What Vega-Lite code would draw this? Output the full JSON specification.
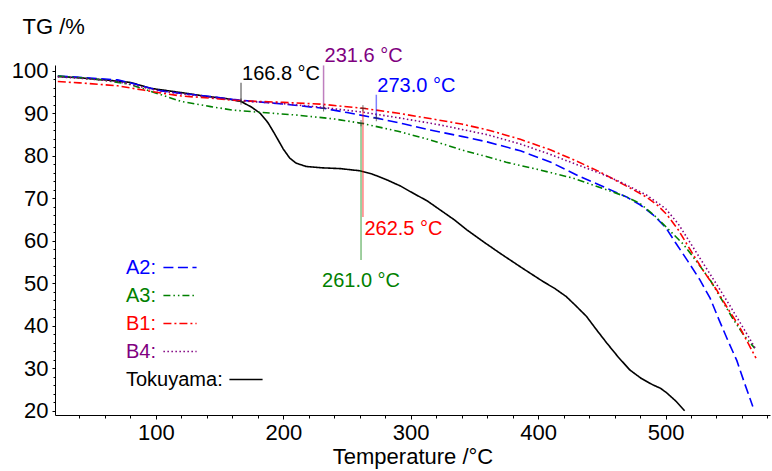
{
  "$schema": "https://vega.github.io/schema/vega-lite/v6.json",
  "width": 715,
  "height": 350,
  "autosize": "none",
  "padding": {"left": 55, "top": 65, "right": 2, "bottom": 56},
  "background": "white",
  "config": {
    "view": {"stroke": null},
    "font": "Liberation Sans",
    "axis": {"grid": false, "domainColor": "#000000", "tickColor": "#000000", "labelColor": "#000000", "titleColor": "#000000", "labelFont": "Liberation Sans", "titleFont": "Liberation Sans", "titleFontWeight": "normal"}
  },
  "datasets": {
    "curves": [
      {"series": "Tokuyama", "T": 23, "TG": 98.7}, {"series": "Tokuyama", "T": 40, "TG": 98.4}, {"series": "Tokuyama", "T": 60, "TG": 97.9}, {"series": "Tokuyama", "T": 80, "TG": 97.3}, {"series": "Tokuyama", "T": 96, "TG": 95.9}, {"series": "Tokuyama", "T": 120, "TG": 94.9}, {"series": "Tokuyama", "T": 140, "TG": 94.0}, {"series": "Tokuyama", "T": 155, "TG": 93.5}, {"series": "Tokuyama", "T": 166.8, "TG": 92.8}, {"series": "Tokuyama", "T": 175, "TG": 91.5}, {"series": "Tokuyama", "T": 182, "TG": 90.0}, {"series": "Tokuyama", "T": 188, "TG": 87.8}, {"series": "Tokuyama", "T": 193, "TG": 85.3}, {"series": "Tokuyama", "T": 200, "TG": 81.6}, {"series": "Tokuyama", "T": 205, "TG": 79.5}, {"series": "Tokuyama", "T": 210, "TG": 78.3}, {"series": "Tokuyama", "T": 218, "TG": 77.5}, {"series": "Tokuyama", "T": 230, "TG": 77.2}, {"series": "Tokuyama", "T": 245, "TG": 77.0}, {"series": "Tokuyama", "T": 260, "TG": 76.5}, {"series": "Tokuyama", "T": 270, "TG": 75.7}, {"series": "Tokuyama", "T": 281, "TG": 74.4}, {"series": "Tokuyama", "T": 292, "TG": 72.9}, {"series": "Tokuyama", "T": 302, "TG": 71.2}, {"series": "Tokuyama", "T": 313, "TG": 69.4}, {"series": "Tokuyama", "T": 323, "TG": 67.3}, {"series": "Tokuyama", "T": 334, "TG": 65.0}, {"series": "Tokuyama", "T": 344, "TG": 62.6}, {"series": "Tokuyama", "T": 357, "TG": 59.8}, {"series": "Tokuyama", "T": 370, "TG": 57.1}, {"series": "Tokuyama", "T": 387, "TG": 53.7}, {"series": "Tokuyama", "T": 404, "TG": 50.4}, {"series": "Tokuyama", "T": 413, "TG": 48.8}, {"series": "Tokuyama", "T": 422, "TG": 46.9}, {"series": "Tokuyama", "T": 430, "TG": 44.6}, {"series": "Tokuyama", "T": 438, "TG": 42.2}, {"series": "Tokuyama", "T": 446, "TG": 39.0}, {"series": "Tokuyama", "T": 454, "TG": 35.9}, {"series": "Tokuyama", "T": 463, "TG": 32.6}, {"series": "Tokuyama", "T": 472, "TG": 29.6}, {"series": "Tokuyama", "T": 481, "TG": 27.6}, {"series": "Tokuyama", "T": 490, "TG": 26.1}, {"series": "Tokuyama", "T": 496, "TG": 25.3}, {"series": "Tokuyama", "T": 501, "TG": 24.2}, {"series": "Tokuyama", "T": 508, "TG": 22.3}, {"series": "Tokuyama", "T": 515, "TG": 20.0},

      {"series": "A2", "T": 23, "TG": 98.8}, {"series": "A2", "T": 40, "TG": 98.5}, {"series": "A2", "T": 60, "TG": 98.1}, {"series": "A2", "T": 70, "TG": 97.9}, {"series": "A2", "T": 85, "TG": 96.8}, {"series": "A2", "T": 104, "TG": 95.3}, {"series": "A2", "T": 120, "TG": 94.7}, {"series": "A2", "T": 143, "TG": 94.0}, {"series": "A2", "T": 160, "TG": 93.3}, {"series": "A2", "T": 174, "TG": 92.9}, {"series": "A2", "T": 200, "TG": 92.2}, {"series": "A2", "T": 231.6, "TG": 91.2}, {"series": "A2", "T": 250, "TG": 90.2}, {"series": "A2", "T": 273, "TG": 88.9}, {"series": "A2", "T": 295, "TG": 87.5}, {"series": "A2", "T": 315, "TG": 86.1}, {"series": "A2", "T": 340, "TG": 84.6}, {"series": "A2", "T": 360, "TG": 83.3}, {"series": "A2", "T": 386, "TG": 81.2}, {"series": "A2", "T": 410, "TG": 78.5}, {"series": "A2", "T": 433, "TG": 75.1}, {"series": "A2", "T": 450, "TG": 72.9}, {"series": "A2", "T": 469, "TG": 70.4}, {"series": "A2", "T": 480, "TG": 68.5}, {"series": "A2", "T": 490, "TG": 66.2}, {"series": "A2", "T": 500, "TG": 63.2}, {"series": "A2", "T": 508, "TG": 59.5}, {"series": "A2", "T": 518, "TG": 55.0}, {"series": "A2", "T": 527, "TG": 50.8}, {"series": "A2", "T": 535, "TG": 46.5}, {"series": "A2", "T": 542, "TG": 41.4}, {"series": "A2", "T": 549, "TG": 36.5}, {"series": "A2", "T": 556, "TG": 31.8}, {"series": "A2", "T": 562, "TG": 26.5}, {"series": "A2", "T": 568.5, "TG": 21.0},

      {"series": "A3", "T": 23, "TG": 98.8}, {"series": "A3", "T": 40, "TG": 98.4}, {"series": "A3", "T": 60, "TG": 97.8}, {"series": "A3", "T": 80, "TG": 96.8}, {"series": "A3", "T": 104, "TG": 94.4}, {"series": "A3", "T": 120, "TG": 92.8}, {"series": "A3", "T": 143, "TG": 91.6}, {"series": "A3", "T": 160, "TG": 90.8}, {"series": "A3", "T": 180, "TG": 90.3}, {"series": "A3", "T": 211, "TG": 89.6}, {"series": "A3", "T": 240, "TG": 88.7}, {"series": "A3", "T": 261, "TG": 87.7}, {"series": "A3", "T": 290, "TG": 85.8}, {"series": "A3", "T": 315, "TG": 83.8}, {"series": "A3", "T": 340, "TG": 81.4}, {"series": "A3", "T": 360, "TG": 79.8}, {"series": "A3", "T": 375, "TG": 78.5}, {"series": "A3", "T": 400, "TG": 76.8}, {"series": "A3", "T": 427, "TG": 74.8}, {"series": "A3", "T": 448, "TG": 72.6}, {"series": "A3", "T": 469, "TG": 70.4}, {"series": "A3", "T": 480, "TG": 68.8}, {"series": "A3", "T": 493, "TG": 65.5}, {"series": "A3", "T": 503, "TG": 62.5}, {"series": "A3", "T": 514, "TG": 59.2}, {"series": "A3", "T": 524, "TG": 55.3}, {"series": "A3", "T": 535, "TG": 50.8}, {"series": "A3", "T": 544, "TG": 46.2}, {"series": "A3", "T": 553, "TG": 41.6}, {"series": "A3", "T": 561, "TG": 38.0}, {"series": "A3", "T": 570, "TG": 34.7},

      {"series": "B1", "T": 23, "TG": 97.5}, {"series": "B1", "T": 40, "TG": 97.2}, {"series": "B1", "T": 70, "TG": 96.5}, {"series": "B1", "T": 90, "TG": 95.5}, {"series": "B1", "T": 104, "TG": 94.8}, {"series": "B1", "T": 120, "TG": 94.1}, {"series": "B1", "T": 143, "TG": 93.6}, {"series": "B1", "T": 160, "TG": 93.1}, {"series": "B1", "T": 174, "TG": 92.9}, {"series": "B1", "T": 200, "TG": 92.6}, {"series": "B1", "T": 229, "TG": 92.2}, {"series": "B1", "T": 262.5, "TG": 91.2}, {"series": "B1", "T": 289, "TG": 90.1}, {"series": "B1", "T": 315, "TG": 88.8}, {"series": "B1", "T": 340, "TG": 87.5}, {"series": "B1", "T": 362, "TG": 86.0}, {"series": "B1", "T": 386, "TG": 83.9}, {"series": "B1", "T": 410, "TG": 81.4}, {"series": "B1", "T": 430, "TG": 78.8}, {"series": "B1", "T": 448, "TG": 76.3}, {"series": "B1", "T": 465, "TG": 73.6}, {"series": "B1", "T": 475, "TG": 72.0}, {"series": "B1", "T": 485, "TG": 70.3}, {"series": "B1", "T": 494, "TG": 68.3}, {"series": "B1", "T": 501, "TG": 66.2}, {"series": "B1", "T": 510, "TG": 62.6}, {"series": "B1", "T": 521, "TG": 57.1}, {"series": "B1", "T": 530, "TG": 52.8}, {"series": "B1", "T": 540, "TG": 48.5}, {"series": "B1", "T": 549, "TG": 44.0}, {"series": "B1", "T": 558, "TG": 39.8}, {"series": "B1", "T": 565, "TG": 35.8}, {"series": "B1", "T": 571, "TG": 32.4},

      {"series": "B4", "T": 23, "TG": 98.6}, {"series": "B4", "T": 40, "TG": 98.3}, {"series": "B4", "T": 70, "TG": 97.5}, {"series": "B4", "T": 104, "TG": 95.2}, {"series": "B4", "T": 143, "TG": 93.8}, {"series": "B4", "T": 174, "TG": 92.8}, {"series": "B4", "T": 200, "TG": 92.3}, {"series": "B4", "T": 231.6, "TG": 91.4}, {"series": "B4", "T": 262, "TG": 90.3}, {"series": "B4", "T": 290, "TG": 89.0}, {"series": "B4", "T": 323, "TG": 87.3}, {"series": "B4", "T": 360, "TG": 85.0}, {"series": "B4", "T": 386, "TG": 82.8}, {"series": "B4", "T": 410, "TG": 80.3}, {"series": "B4", "T": 430, "TG": 78.0}, {"series": "B4", "T": 448, "TG": 76.0}, {"series": "B4", "T": 465, "TG": 73.8}, {"series": "B4", "T": 485, "TG": 70.8}, {"series": "B4", "T": 500, "TG": 67.6}, {"series": "B4", "T": 510, "TG": 64.0}, {"series": "B4", "T": 521, "TG": 58.8}, {"series": "B4", "T": 530, "TG": 54.5}, {"series": "B4", "T": 540, "TG": 49.8}, {"series": "B4", "T": 550, "TG": 45.0}, {"series": "B4", "T": 558, "TG": 41.0}, {"series": "B4", "T": 565, "TG": 37.5}, {"series": "B4", "T": 571, "TG": 34.4}
    ],
    "ann": [
      {"series": "Tokuyama", "label": "166.8 °C", "T": 166.8, "v1": 92.8, "v2": 97.2},
      {"series": "B4", "label": "231.6 °C", "T": 231.6, "v1": 91.2, "v2": 101.3},
      {"series": "A2", "label": "273.0 °C", "T": 273.0, "v1": 88.9, "v2": 94.4},
      {"series": "B1", "label": "262.5 °C", "T": 262.5, "v1": 91.2, "v2": 65.6},
      {"series": "A3", "label": "261.0 °C", "T": 261.0, "v1": 87.7, "v2": 55.5}
    ]
  },
  "layer": [
    {
      "data": {"name": "curves"},
      "mark": {"type": "line", "strokeWidth": 1.6},
      "encoding": {
        "x": {"field": "T", "type": "quantitative", "scale": {"domain": [20.8, 582], "nice": false, "zero": false},
          "axis": {"orient": "bottom", "values": [100, 200, 300, 400, 500], "tickSize": 4, "labelFontSize": 22, "labelPadding": 3, "title": "Temperature /°C", "titleFontSize": 22, "titleY": 48, "titleBaseline": "alphabetic"}},
        "y": {"field": "TG", "type": "quantitative", "scale": {"domain": [19, 101.4], "nice": false, "zero": false},
          "axis": {"orient": "left", "values": [20, 30, 40, 50, 60, 70, 80, 90, 100], "tickSize": 3, "labelFontSize": 22, "labelPadding": 4, "title": "TG /%", "titleFontSize": 22, "titleAngle": 0, "titleAlign": "left", "titleBaseline": "alphabetic", "titleX": -33, "titleY": -32}},
        "color": {"field": "series", "type": "nominal",
          "scale": {"domain": ["A2", "A3", "B1", "B4", "Tokuyama"], "range": ["#0000ff", "#008000", "#ff0000", "#800080", "#000000"]},
          "legend": {
            "orient": "none", "legendX": 71, "legendY": 185, "title": null, "padding": 0,
            "labelFont": "Liberation Sans", "labelFontSize": 20, "labelExpr": "datum.label + ':'", "labelLimit": 300,
            "symbolType": "stroke", "symbolSize": 100, "symbolStrokeWidth": 1.5, "rowPadding": -2.3,
            "encode": {
              "symbols": {"update": {"size": {"value": 1100}, "x": {"signal": "datum.value === 'Tokuyama' ? 120 : 54"}}},
              "labels": {"update": {"x": {"value": 0}, "fill": {"signal": "datum.value === 'A2' ? '#0000ff' : datum.value === 'A3' ? '#008000' : datum.value === 'B1' ? '#ff0000' : datum.value === 'B4' ? '#800080' : '#000000'"}}}
            }
          }},
        "strokeDash": {"field": "series", "type": "nominal",
          "scale": {"domain": ["A2", "A3", "B1", "B4", "Tokuyama"], "range": [[10, 4.5], [7, 3, 1.5, 3, 1.5, 3], [8, 3, 2, 3], [1.5, 2.5], [1, 0]]}}
      }
    },
    {
      "data": {"name": "ann"},
      "mark": {"type": "rule", "strokeWidth": 1.5, "opacity": 0.5},
      "encoding": {
        "x": {"field": "T", "type": "quantitative",
          "axis": {"orient": "bottom", "values": [40, 60, 80, 120, 140, 160, 180, 220, 240, 260, 280, 320, 340, 360, 380, 420, 440, 460, 480, 520, 540, 560, 580], "tickSize": 3, "labels": false, "domain": false, "title": null}},
        "y": {"field": "v1", "type": "quantitative",
          "axis": {"orient": "left", "values": [22, 24, 26, 28, 32, 34, 36, 38, 42, 44, 46, 48, 52, 54, 56, 58, 62, 64, 66, 68, 72, 74, 76, 78, 82, 84, 86, 88, 92, 94, 96, 98], "tickSize": 2, "labels": false, "domain": false, "title": null}},
        "y2": {"field": "v2"},
        "color": {"field": "series", "type": "nominal", "legend": null}
      }
    },
    {
      "data": {"name": "ann"},
      "mark": {"type": "point", "shape": "M-1,0H1M0,-1V1", "size": 40, "filled": false, "strokeWidth": 1, "color": "#333333"},
      "encoding": {
        "x": {"field": "T", "type": "quantitative", "axis": null},
        "y": {"field": "v1", "type": "quantitative", "axis": null}
      }
    },
    {
      "data": {"name": "ann"},
      "transform": [{"filter": "datum.series === 'Tokuyama' || datum.series === 'B4' || datum.series === 'A2'"}],
      "mark": {"type": "text", "align": "left", "baseline": "alphabetic", "dx": 1, "dy": -3, "fontSize": 20, "font": "Liberation Sans"},
      "encoding": {
        "x": {"field": "T", "type": "quantitative", "axis": null},
        "y": {"field": "v2", "type": "quantitative", "axis": null},
        "text": {"field": "label"},
        "color": {"field": "series", "type": "nominal", "legend": null}
      }
    },
    {
      "data": {"name": "ann"},
      "transform": [{"filter": "datum.series === 'B1'"}],
      "mark": {"type": "text", "align": "left", "baseline": "alphabetic", "dx": 1.5, "dy": 18, "fontSize": 20, "font": "Liberation Sans"},
      "encoding": {
        "x": {"field": "T", "type": "quantitative", "axis": null},
        "y": {"field": "v2", "type": "quantitative", "axis": null},
        "text": {"field": "label"},
        "color": {"field": "series", "type": "nominal", "legend": null}
      }
    },
    {
      "data": {"name": "ann"},
      "transform": [{"filter": "datum.series === 'A3'"}],
      "mark": {"type": "text", "align": "center", "baseline": "alphabetic", "dy": 27, "fontSize": 20, "font": "Liberation Sans"},
      "encoding": {
        "x": {"field": "T", "type": "quantitative", "axis": null},
        "y": {"field": "v2", "type": "quantitative", "axis": null},
        "text": {"field": "label"},
        "color": {"field": "series", "type": "nominal", "legend": null}
      }
    }
  ],
  "resolve": {"axis": {"x": "independent", "y": "independent"}}
}
